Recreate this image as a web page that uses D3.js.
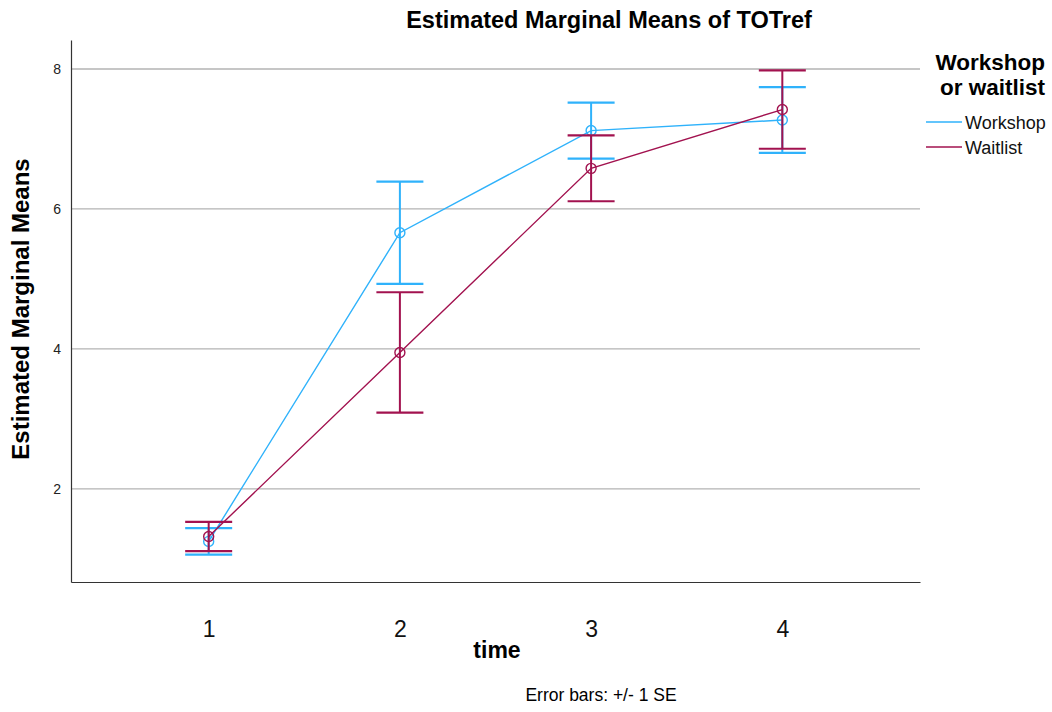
<!DOCTYPE html>
<html>
<head>
<meta charset="utf-8">
<script src="https://cdn.jsdelivr.net/npm/d3@7"></script>
<style>
  body { margin: 0; background: #fff; }
  text { font-family: "Liberation Sans", Arial, sans-serif; }
</style>
</head>
<body>
<div class="container"></div>
<script>
// data
let times = [1, 2, 3, 4];
let groups = ["Workshop", "Waitlist"];
let workshopMean = [1.25, 5.66, 7.12, 7.27];
let workshopSE = [0.19, 0.73, 0.40, 0.47];
let waitlistMean = [1.32, 3.95, 6.58, 7.42];
let waitlistSE = [0.21, 0.86, 0.47, 0.56];
let yTicks = [2, 4, 6, 8];

let colors = { Workshop: "#2fb2fb", Waitlist: "#a2124f" };

let margin = { top: 40, right: 132, bottom: 130, left: 71 },
    width = 1052 - margin.left - margin.right,
    height = 712 - margin.top - margin.bottom;

let svg = d3.select(".container")
    .append("svg")
    .attr("width", 1052)
    .attr("height", 712);

let g = svg.append("g")
    .attr("transform", "translate(" + margin.left + "," + margin.top + ")");

let x = d3.scaleLinear()
    .domain([0.28, 4.72])
    .range([0, width]);

let y = d3.scaleLinear()
    .domain([0.67, 8.414])
    .range([height, 0]);

// gridlines
g.append("g")
    .selectAll("line")
    .data(yTicks)
    .enter()
    .append("line")
    .attr("x1", 0)
    .attr("x2", width)
    .attr("y1", d => y(d))
    .attr("y2", d => y(d))
    .attr("stroke", "#b3b3b3")
    .attr("stroke-width", 1.3);

// y axis
let yAxis = g.append("g")
    .call(d3.axisLeft(y).tickValues(yTicks).tickSize(0).tickPadding(10));
yAxis.select(".domain").attr("stroke", "#333").attr("stroke-width", 1.2);
yAxis.selectAll("text")
    .style("font-size", "14px")
    .style("font-family", "Liberation Sans, Arial, sans-serif")
    .attr("fill", "#222");

// x axis
let xAxis = g.append("g")
    .attr("transform", "translate(0," + height + ")")
    .call(d3.axisBottom(x).tickValues(times).tickFormat(d3.format("d")).tickSize(0).tickPadding(38.5));
xAxis.select(".domain").attr("stroke", "#333").attr("stroke-width", 1.2);
xAxis.selectAll("text")
    .style("font-size", "23px")
    .style("font-family", "Liberation Sans, Arial, sans-serif")
    .attr("fill", "#111");

let series = [
    { name: "Workshop", values: times.map((t, i) => ({ t: t, m: workshopMean[i], se: workshopSE[i] })) },
    { name: "Waitlist", values: times.map((t, i) => ({ t: t, m: waitlistMean[i], se: waitlistSE[i] })) }
];

let line = d3.line()
    .x(d => x(d.t))
    .y(d => y(d.m));

let capW = 23.5;

series.forEach(s => {
    let c = colors[s.name];
    let sg = g.append("g");

    // error bars
    let eb = sg.selectAll(".eb")
        .data(s.values)
        .enter()
        .append("g");
    eb.append("line")
        .attr("x1", d => x(d.t))
        .attr("x2", d => x(d.t))
        .attr("y1", d => y(d.m + d.se))
        .attr("y2", d => y(d.m - d.se))
        .attr("stroke", c)
        .attr("stroke-width", 2);
    eb.append("line")
        .attr("x1", d => x(d.t) - capW)
        .attr("x2", d => x(d.t) + capW)
        .attr("y1", d => y(d.m + d.se))
        .attr("y2", d => y(d.m + d.se))
        .attr("stroke", c)
        .attr("stroke-width", 2.2);
    eb.append("line")
        .attr("x1", d => x(d.t) - capW)
        .attr("x2", d => x(d.t) + capW)
        .attr("y1", d => y(d.m - d.se))
        .attr("y2", d => y(d.m - d.se))
        .attr("stroke", c)
        .attr("stroke-width", 2.2);

    sg.append("path")
        .datum(s.values)
        .attr("d", line)
        .attr("fill", "none")
        .attr("stroke", c)
        .attr("stroke-width", 1.4);

    sg.selectAll("circle")
        .data(s.values)
        .enter()
        .append("circle")
        .attr("cx", d => x(d.t))
        .attr("cy", d => y(d.m))
        .attr("r", 5)
        .attr("fill", "none")
        .attr("stroke", c)
        .attr("stroke-width", 1.4);
});

// titles
svg.append("text")
    .attr("x", 609)
    .attr("y", 28)
    .attr("text-anchor", "middle")
    .style("font-size", "23.5px")
    .style("font-weight", "bold")
    .text("Estimated Marginal Means of TOTref");

svg.append("text")
    .attr("transform", "translate(29,309) rotate(-90)")
    .attr("text-anchor", "middle")
    .style("font-size", "24px")
    .style("font-weight", "bold")
    .text("Estimated Marginal Means");

svg.append("text")
    .attr("x", 497)
    .attr("y", 658)
    .attr("text-anchor", "middle")
    .style("font-size", "23px")
    .style("font-weight", "bold")
    .text("time");

svg.append("text")
    .attr("x", 601)
    .attr("y", 701)
    .attr("text-anchor", "middle")
    .style("font-size", "17.5px")
    .text("Error bars: +/- 1 SE");

// legend
let legend = svg.append("g");
legend.append("text")
    .attr("x", 1045)
    .attr("y", 70)
    .attr("text-anchor", "end")
    .style("font-size", "22.5px")
    .style("font-weight", "bold")
    .text("Workshop");
legend.append("text")
    .attr("x", 1045)
    .attr("y", 95)
    .attr("text-anchor", "end")
    .style("font-size", "22.5px")
    .style("font-weight", "bold")
    .text("or waitlist");

let items = legend.selectAll(".item")
    .data(groups)
    .enter()
    .append("g")
    .attr("transform", (d, i) => "translate(926," + (122 + i * 25) + ")");
items.append("line")
    .attr("x1", 0)
    .attr("x2", 36)
    .attr("stroke", d => colors[d])
    .attr("stroke-width", 1.5);
items.append("text")
    .attr("x", 39)
    .attr("y", 6.5)
    .style("font-size", "18px")
    .attr("fill", "#111")
    .text(d => d);
</script>
</body>
</html>
